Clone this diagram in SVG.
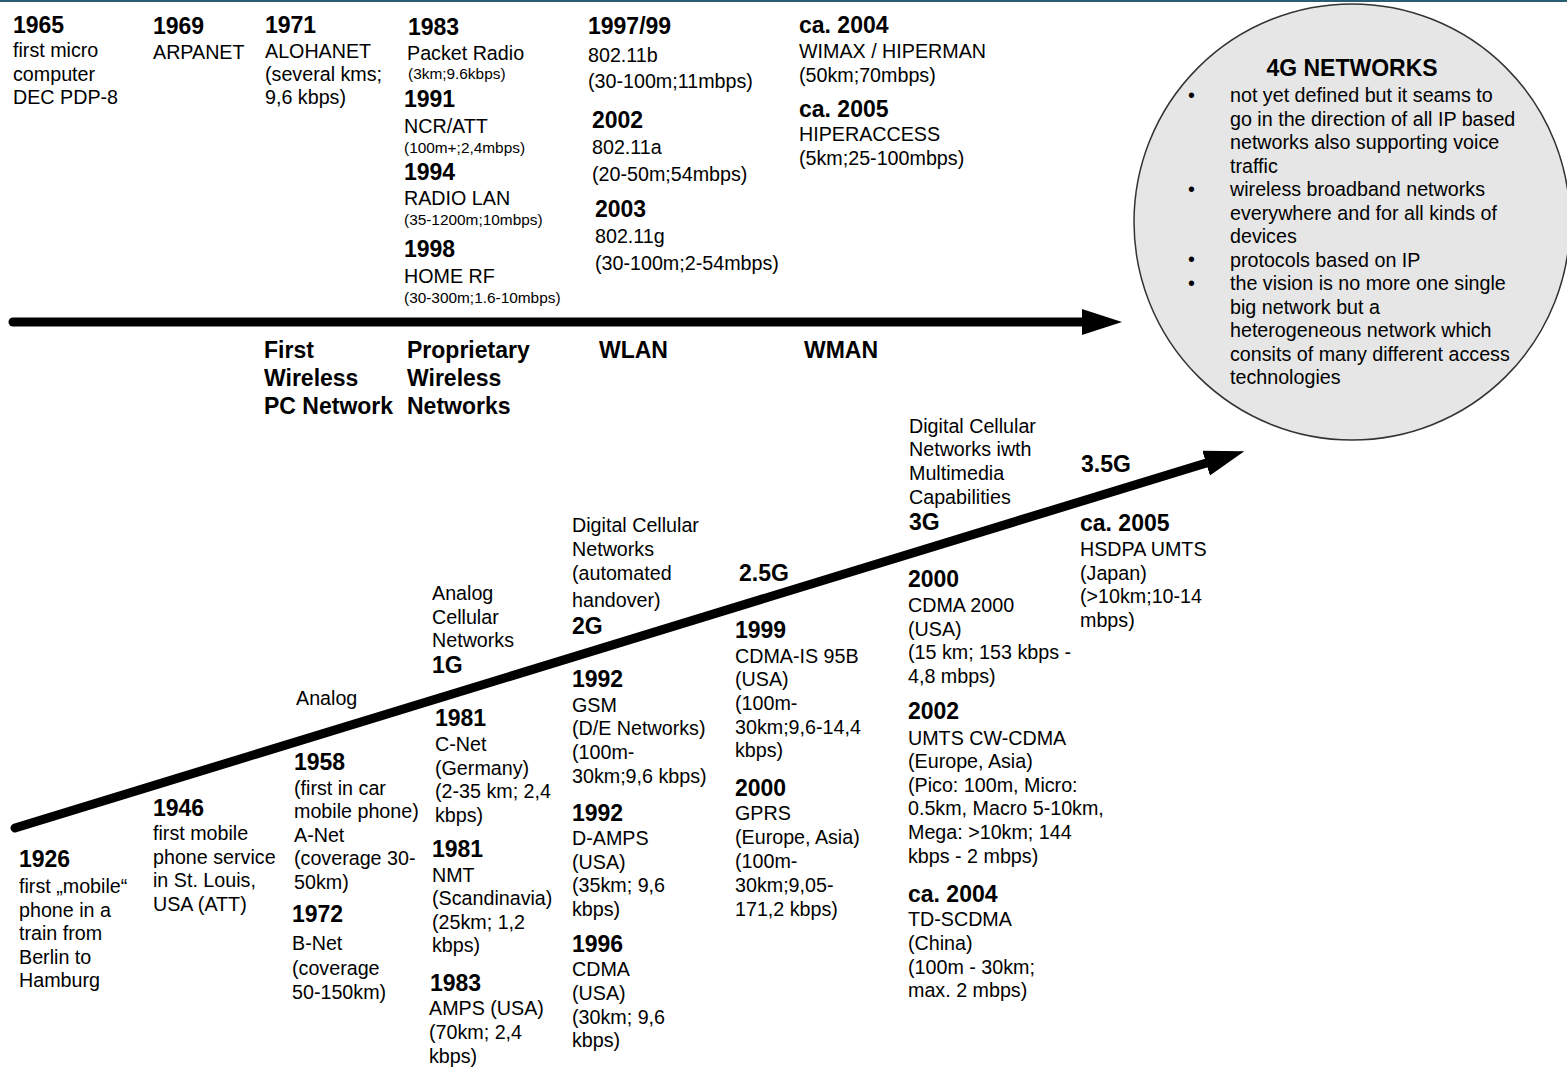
<svg xmlns="http://www.w3.org/2000/svg" width="1567" height="1068" viewBox="0 0 1567 1068">
<style>
text{font-family:"Liberation Sans",Arial,sans-serif;fill:#000}
.b{font-size:23px;font-weight:bold}
.t{font-size:19.7px}
.s{font-size:15.4px}
.ln{stroke:#000;stroke-width:9;stroke-linecap:round;fill:none}
</style>
<defs>
<marker id="ah" markerUnits="userSpaceOnUse" markerWidth="42" markerHeight="28" refX="2" refY="13" orient="auto">
<path d="M0,0 L40,13 L0,26 z" fill="#000"/>
</marker>
</defs>
<rect x="0" y="0" width="1567" height="1068" fill="#fff"/>
<rect x="0" y="0" width="1567" height="2" fill="#2b5d72"/>

<g id="connectors">
<line class="ln" x1="13" y1="322" x2="1084" y2="322" marker-end="url(#ah)"/>
<line class="ln" x1="15" y1="828" x2="1208" y2="462.5" marker-end="url(#ah)"/>
</g>

<g id="n1965"><text class="b" x="13" y="33">1965</text><text class="t" x="13" y="57">first micro</text><text class="t" x="13" y="81">computer</text><text class="t" x="13" y="104">DEC PDP-8</text></g>
<g id="n1969"><text class="b" x="153" y="34">1969</text><text class="t" x="153" y="59">ARPANET</text></g>
<g id="n1971"><text class="b" x="265" y="33">1971</text><text class="t" x="265" y="58">ALOHANET</text><text class="t" x="265" y="81">(several kms;</text><text class="t" x="265" y="104">9,6 kbps)</text></g>
<g id="n1983w"><text class="b" x="408" y="35">1983</text><text class="t" x="407" y="60">Packet Radio</text><text class="s" x="408" y="79">(3km;9.6kbps)</text></g>
<g id="n1991"><text class="b" x="404" y="107">1991</text><text class="t" x="404" y="133">NCR/ATT</text><text class="s" x="404" y="153">(100m+;2,4mbps)</text></g>
<g id="n1994"><text class="b" x="404" y="180">1994</text><text class="t" x="404" y="205">RADIO LAN</text><text class="s" x="404" y="225">(35-1200m;10mbps)</text></g>
<g id="n1998"><text class="b" x="404" y="257">1998</text><text class="t" x="404" y="283">HOME RF</text><text class="s" x="404" y="303">(30-300m;1.6-10mbps)</text></g>
<g id="n1997"><text class="b" x="588" y="34">1997/99</text><text class="t" x="588" y="62">802.11b</text><text class="t" x="588" y="88">(30-100m;11mbps)</text></g>
<g id="n2002w"><text class="b" x="592" y="128">2002</text><text class="t" x="592" y="154">802.11a</text><text class="t" x="592" y="181">(20-50m;54mbps)</text></g>
<g id="n2003w"><text class="b" x="595" y="217">2003</text><text class="t" x="595" y="243">802.11g</text><text class="t" x="595" y="270">(30-100m;2-54mbps)</text></g>
<g id="n2004m"><text class="b" x="799" y="33">ca. 2004</text><text class="t" x="799" y="58">WIMAX / HIPERMAN</text><text class="t" x="799" y="82">(50km;70mbps)</text></g>
<g id="n2005m"><text class="b" x="799" y="117">ca. 2005</text><text class="t" x="799" y="141">HIPERACCESS</text><text class="t" x="799" y="165">(5km;25-100mbps)</text></g>

<g id="cat-first"><text class="b" x="264" y="358">First</text><text class="b" x="264" y="386">Wireless</text><text class="b" x="264" y="414">PC Network</text></g>
<g id="cat-prop"><text class="b" x="407" y="358">Proprietary</text><text class="b" x="407" y="386">Wireless</text><text class="b" x="407" y="414">Networks</text></g>
<g id="cat-wlan"><text class="b" x="599" y="358">WLAN</text></g>
<g id="cat-wman"><text class="b" x="804" y="358">WMAN</text></g>

<g id="n4g">
<circle cx="1352" cy="222" r="218" fill="#e6e6e6" stroke="#333" stroke-width="1.5"/>
<text class="b" x="1352" y="76" text-anchor="middle">4G NETWORKS</text>
<text class="t" x="1188" y="102">•</text><text class="t" x="1188" y="196">•</text><text class="t" x="1188" y="266">•</text><text class="t" x="1188" y="290">•</text>
<text class="t" x="1230" y="102">not yet defined but it seams to</text>
<text class="t" x="1230" y="125.5">go in the direction of all IP based</text>
<text class="t" x="1230" y="149">networks also supporting voice</text>
<text class="t" x="1230" y="172.5">traffic</text>
<text class="t" x="1230" y="196">wireless broadband networks</text>
<text class="t" x="1230" y="219.5">everywhere and for all kinds of</text>
<text class="t" x="1230" y="243">devices</text>
<text class="t" x="1230" y="266.5">protocols based on IP</text>
<text class="t" x="1230" y="290">the vision is no more one single</text>
<text class="t" x="1230" y="313.5">big network but a</text>
<text class="t" x="1230" y="337">heterogeneous network which</text>
<text class="t" x="1230" y="360.5">consits of many different access</text>
<text class="t" x="1230" y="384">technologies</text>
</g>

<g id="n1926"><text class="b" x="19" y="867">1926</text><text class="t" x="19" y="893">first „mobile“</text><text class="t" x="19" y="917">phone in a</text><text class="t" x="19" y="940">train from</text><text class="t" x="19" y="964">Berlin to</text><text class="t" x="19" y="987">Hamburg</text></g>
<g id="n1946"><text class="b" x="153" y="816">1946</text><text class="t" x="153" y="840">first mobile</text><text class="t" x="153" y="864">phone service</text><text class="t" x="153" y="887">in St. Louis,</text><text class="t" x="153" y="911">USA (ATT)</text></g>
<g id="cat-analog"><text class="t" x="296" y="705">Analog</text></g>
<g id="n1958"><text class="b" x="294" y="770">1958</text><text class="t" x="294" y="795">(first in car</text><text class="t" x="294" y="818">mobile phone)</text><text class="t" x="294" y="842">A-Net</text><text class="t" x="294" y="865">(coverage 30-</text><text class="t" x="294" y="889">50km)</text></g>
<g id="n1972"><text class="b" x="292" y="922">1972</text><text class="t" x="292" y="950">B-Net</text><text class="t" x="292" y="975">(coverage</text><text class="t" x="292" y="999">50-150km)</text></g>
<g id="cat-1g"><text class="t" x="432" y="600">Analog</text><text class="t" x="432" y="624">Cellular</text><text class="t" x="432" y="647">Networks</text><text class="b" x="432" y="673">1G</text></g>
<g id="n1981c"><text class="b" x="435" y="726">1981</text><text class="t" x="435" y="751">C-Net</text><text class="t" x="435" y="775">(Germany)</text><text class="t" x="435" y="798">(2-35 km; 2,4</text><text class="t" x="435" y="822">kbps)</text></g>
<g id="n1981n"><text class="b" x="432" y="857">1981</text><text class="t" x="432" y="882">NMT</text><text class="t" x="432" y="905">(Scandinavia)</text><text class="t" x="432" y="929">(25km; 1,2</text><text class="t" x="432" y="952">kbps)</text></g>
<g id="n1983a"><text class="b" x="430" y="991">1983</text><text class="t" x="429" y="1015">AMPS (USA)</text><text class="t" x="429" y="1039">(70km; 2,4</text><text class="t" x="429" y="1063">kbps)</text></g>
<g id="cat-2g"><text class="t" x="572" y="532">Digital Cellular</text><text class="t" x="572" y="556">Networks</text><text class="t" x="572" y="580">(automated</text><text class="t" x="572" y="607">handover)</text><text class="b" x="572" y="634">2G</text></g>
<g id="n1992g"><text class="b" x="572" y="687">1992</text><text class="t" x="572" y="712">GSM</text><text class="t" x="572" y="735">(D/E Networks)</text><text class="t" x="572" y="759">(100m-</text><text class="t" x="572" y="783">30km;9,6 kbps)</text></g>
<g id="n1992d"><text class="b" x="572" y="821">1992</text><text class="t" x="572" y="845">D-AMPS</text><text class="t" x="572" y="869">(USA)</text><text class="t" x="572" y="892">(35km; 9,6</text><text class="t" x="572" y="916">kbps)</text></g>
<g id="n1996"><text class="b" x="572" y="952">1996</text><text class="t" x="572" y="976">CDMA</text><text class="t" x="572" y="1000">(USA)</text><text class="t" x="572" y="1024">(30km; 9,6</text><text class="t" x="572" y="1047">kbps)</text></g>
<g id="cat-25g"><text class="b" x="739" y="581">2.5G</text></g>
<g id="n1999"><text class="b" x="735" y="638">1999</text><text class="t" x="735" y="663">CDMA-IS 95B</text><text class="t" x="735" y="686">(USA)</text><text class="t" x="735" y="710">(100m-</text><text class="t" x="735" y="734">30km;9,6-14,4</text><text class="t" x="735" y="757">kbps)</text></g>
<g id="n2000g"><text class="b" x="735" y="796">2000</text><text class="t" x="735" y="820">GPRS</text><text class="t" x="735" y="844">(Europe, Asia)</text><text class="t" x="735" y="868">(100m-</text><text class="t" x="735" y="892">30km;9,05-</text><text class="t" x="735" y="916">171,2 kbps)</text></g>
<g id="cat-3g"><text class="t" x="909" y="433">Digital Cellular</text><text class="t" x="909" y="456">Networks iwth</text><text class="t" x="909" y="480">Multimedia</text><text class="t" x="909" y="504">Capabilities</text><text class="b" x="909" y="530">3G</text></g>
<g id="n2000c"><text class="b" x="908" y="587">2000</text><text class="t" x="908" y="612">CDMA 2000</text><text class="t" x="908" y="636">(USA)</text><text class="t" x="908" y="659">(15 km; 153 kbps -</text><text class="t" x="908" y="683">4,8 mbps)</text></g>
<g id="n2002u"><text class="b" x="908" y="719">2002</text><text class="t" x="908" y="745">UMTS CW-CDMA</text><text class="t" x="908" y="768">(Europe, Asia)</text><text class="t" x="908" y="792">(Pico: 100m, Micro:</text><text class="t" x="908" y="815">0.5km, Macro 5-10km,</text><text class="t" x="908" y="839">Mega: &gt;10km; 144</text><text class="t" x="908" y="863">kbps - 2 mbps)</text></g>
<g id="n2004t"><text class="b" x="908" y="902">ca. 2004</text><text class="t" x="908" y="926">TD-SCDMA</text><text class="t" x="908" y="950">(China)</text><text class="t" x="908" y="974">(100m - 30km;</text><text class="t" x="908" y="997">max. 2 mbps)</text></g>
<g id="cat-35g"><text class="b" x="1081" y="472">3.5G</text></g>
<g id="n2005h"><text class="b" x="1080" y="531">ca. 2005</text><text class="t" x="1080" y="556">HSDPA UMTS</text><text class="t" x="1080" y="580">(Japan)</text><text class="t" x="1080" y="603">(&gt;10km;10-14</text><text class="t" x="1080" y="627">mbps)</text></g>
</svg>
